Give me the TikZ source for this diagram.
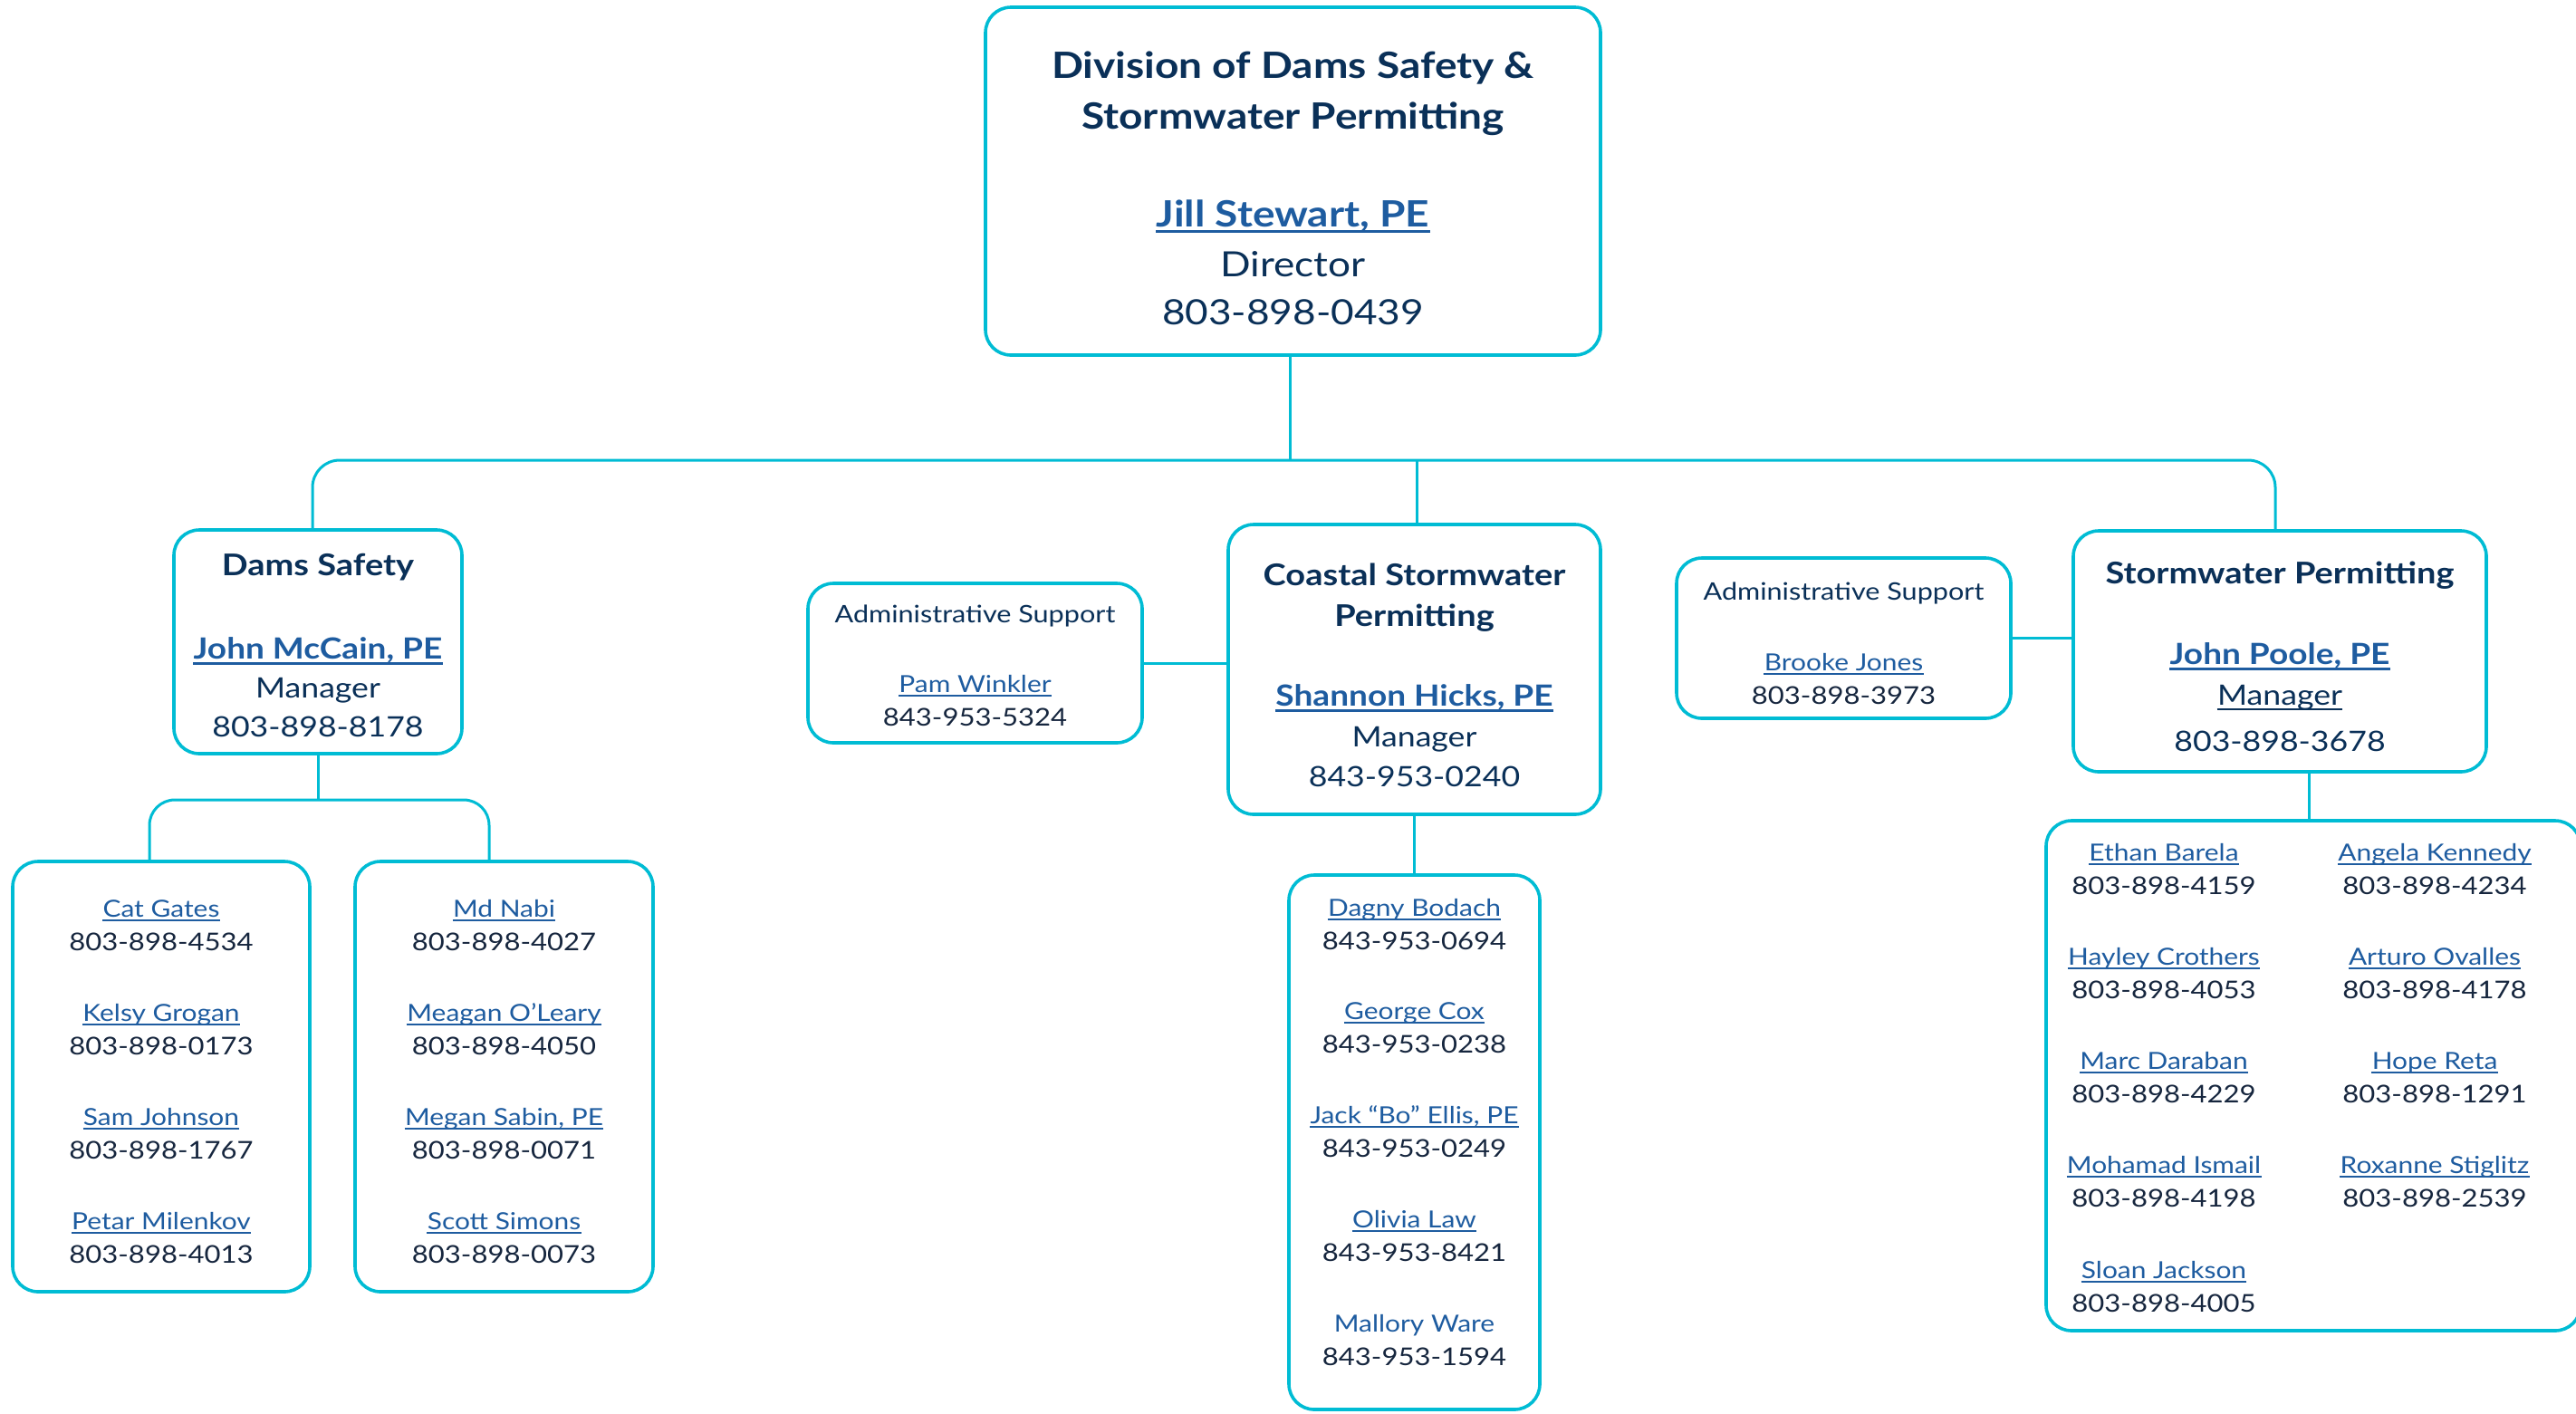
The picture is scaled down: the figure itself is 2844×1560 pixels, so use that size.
\documentclass[tikz,border=0pt]{standalone}
\usepackage{fontspec}
\setmainfont{Lato}[FakeStretch=1.15]
\definecolor{navy}{RGB}{10,48,88}
\definecolor{linkblue}{RGB}{30,92,160}
\definecolor{phone}{RGB}{22,38,62}
\definecolor{cyanline}{RGB}{0,188,212}
\newcommand\fs[1]{\fontsize{#1}{#1}\selectfont}
\newcommand\boxat[5]{\node[orgbox, minimum width={((#4)-(#2))*0.5pt}, minimum height={((#5)-(#3))*0.5pt}] (#1) at ({((#2)+(#4))/2},{((#3)+(#5))/2}) {};}
\newcommand\tx[5]{\node[#4] (#1) at (#2,#3) {#5};}
\newcommand\utx[5]{\node[#4] (#1) at (#2,#3) {#5};
  \draw[ulthick] ([yshift=-2.6pt]#1.base west) -- ([yshift=-2.6pt]#1.base east);}
\newcommand\entry[5]{\node[sname] (#1n) at (#2,#3) {#4};
  \draw[ulthin] ([yshift=-2pt]#1n.base west) -- ([yshift=-2pt]#1n.base east);
  \node[stxt] (#1p) at (#2,#3+37) {#5};}
\begin{document}
\begin{tikzpicture}[x=0.5pt,y=-0.5pt,
  orgbox/.style={draw=cyanline, line width=1.8pt, rounded corners=14pt, fill=white, inner sep=0pt},
  conn/.style={draw=cyanline, line width=1.5pt},
  txt/.style={inner sep=0pt, anchor=base},
  title/.style={txt, font=\bfseries\fs{20}, text=navy},
  dirname/.style={txt, font=\bfseries\fs{20}, text=linkblue},
  dirtxt/.style={txt, font=\fs{19.2}, text=navy},
  head/.style={txt, font=\bfseries\fs{16.5}, text=navy},
  mname/.style={txt, font=\bfseries\fs{16.1}, text=linkblue},
  mtxt/.style={txt, font=\fs{15.5}, text=navy},
  sname/.style={txt, font=\fs{13}, text=linkblue},
  stxt/.style={txt, font=\fs{13.5}, text=phone},
  atxt/.style={txt, font=\fs{13.3}, text=navy},
  ulthick/.style={draw=linkblue, line width=1.5pt},
  ulthin/.style={draw=linkblue, line width=0.9pt},
  ulnavy/.style={draw=navy, line width=0.9pt}]
\fill[white] (0,0) rectangle (2844,1560);
\useasboundingbox (0,0) rectangle (2844,1560);
\coordinate (bus) at (0,508);
\coordinate (sub) at (0,883);
\coordinate (sub1) at (165,0);
\coordinate (sub2) at (540,0);
\coordinate (topdrop) at (1424,0);
\coordinate (damsdrop) at (345,0);
\coordinate (csdrop) at (1564,0);
\coordinate (spbusdrop) at (2512,0);
\coordinate (spdrop) at (2549,0);
% boxes
\boxat{top}{1088}{8}{1767}{392}
\boxat{dams}{192}{585}{510}{832}
\boxat{adminL}{892}{644}{1261}{820}
\boxat{coastal}{1356}{579}{1767}{899}
\boxat{adminR}{1851}{616}{2220}{793}
\boxat{sp}{2289}{586}{2745}{852}
\boxat{ds1}{14}{951}{342}{1426}
\boxat{ds2}{392}{951}{721}{1426}
\boxat{cs}{1423}{966}{1700}{1556}
\boxat{ss}{2259}{906}{2849}{1469}
% connectors
\draw[conn] (top.south -| topdrop) -- (topdrop |- bus);
\draw[conn, rounded corners=15pt] (dams.north -| damsdrop) -- (damsdrop |- bus) -- (spbusdrop |- bus) -- (sp.north -| spbusdrop);
\draw[conn] (csdrop |- bus) -- (coastal.north -| csdrop);
\draw[conn] (adminL.east) -- (coastal.west |- adminL.east);
\draw[conn] (adminR.east) -- (sp.west |- adminR.east);
\draw[conn] (dams.south) -- (dams.south |- sub);
\draw[conn, rounded corners=14pt] (ds1.north -| sub1) -- (sub1 |- sub) -- (sub2 |- sub) -- (ds2.north -| sub2);
\draw[conn] (coastal.south) -- (cs.north);
\draw[conn] (sp.south -| spdrop) -- (ss.north -| spdrop);
% top box text
\tx{t1}{1427.5}{86}{title}{Division of Dams Safety \&}
\tx{t2}{1427.5}{142}{title}{Stormwater Permitting}
\utx{t3}{1427.5}{250}{dirname}{Jill Stewart, PE}
\tx{t4}{1427.5}{305}{dirtxt}{Director}
\tx{t5}{1427.5}{358}{dirtxt}{803-898-0439}
% dams safety
\tx{d1}{351}{635}{head}{Dams Safety}
\utx{d2}{351}{727}{mname}{John McCain, PE}
\tx{d3}{351}{770}{mtxt}{Manager}
\tx{d4}{351}{813}{mtxt}{803-898-8178}
% admin left
\tx{a1}{1076.5}{687}{atxt}{Administrative Support}
\entry{a2}{1076.5}{764}{Pam Winkler}{843-953-5324}
% coastal
\tx{c1}{1561.5}{646}{head}{Coastal Stormwater}
\tx{c2}{1561.5}{691}{head}{Permitting}
\utx{c3}{1561.5}{779}{mname}{Shannon Hicks, PE}
\tx{c4}{1561.5}{824}{mtxt}{Manager}
\tx{c5}{1561.5}{868}{mtxt}{843-953-0240}
% admin right
\tx{r1}{2035.5}{662}{atxt}{Administrative Support}
\entry{r2}{2035.5}{740}{Brooke Jones}{803-898-3973}
% stormwater permitting
\tx{p1}{2517}{644}{head}{Stormwater Permitting}
\utx{p2}{2517}{733}{mname}{John Poole, PE}
\tx{p3}{2517}{778}{mtxt}{Manager}
\draw[ulnavy] ([yshift=-2.4pt]p3.base west) -- ([yshift=-2.4pt]p3.base east);
\tx{p4}{2517}{829}{mtxt}{803-898-3678}
% dams staff
\entry{e1}{178}{1012}{Cat Gates}{803-898-4534}
\entry{e2}{178}{1127}{Kelsy Grogan}{803-898-0173}
\entry{e3}{178}{1242}{Sam Johnson}{803-898-1767}
\entry{e4}{178}{1357}{Petar Milenkov}{803-898-4013}
\entry{e5}{556.5}{1012}{Md Nabi}{803-898-4027}
\entry{e6}{556.5}{1127}{Meagan O’Leary}{803-898-4050}
\entry{e7}{556.5}{1242}{Megan Sabin, PE}{803-898-0071}
\entry{e8}{556.5}{1357}{Scott Simons}{803-898-0073}
% coastal staff
\entry{f1}{1561.5}{1011}{Dagny Bodach}{843-953-0694}
\entry{f2}{1561.5}{1125}{George Cox}{843-953-0238}
\entry{f3}{1561.5}{1240}{Jack “Bo” Ellis, PE}{843-953-0249}
\entry{f4}{1561.5}{1355}{Olivia Law}{843-953-8421}
\node[sname] (f5n) at (1561.5,1470) {Mallory Ware};
\node[stxt] (f5p) at (1561.5,1507) {843-953-1594};
% stormwater staff
\entry{g1}{2389}{950}{Ethan Barela}{803-898-4159}
\entry{g2}{2389}{1065}{Hayley Crothers}{803-898-4053}
\entry{g3}{2389}{1180}{Marc Daraban}{803-898-4229}
\entry{g4}{2389}{1295}{Mohamad Ismail}{803-898-4198}
\entry{g5}{2389}{1411}{Sloan Jackson}{803-898-4005}
\entry{h1}{2688}{950}{Angela Kennedy}{803-898-4234}
\entry{h2}{2688}{1065}{Arturo Ovalles}{803-898-4178}
\entry{h3}{2688}{1180}{Hope Reta}{803-898-1291}
\entry{h4}{2688}{1295}{Roxanne Stiglitz}{803-898-2539}
\end{tikzpicture}
\end{document}
